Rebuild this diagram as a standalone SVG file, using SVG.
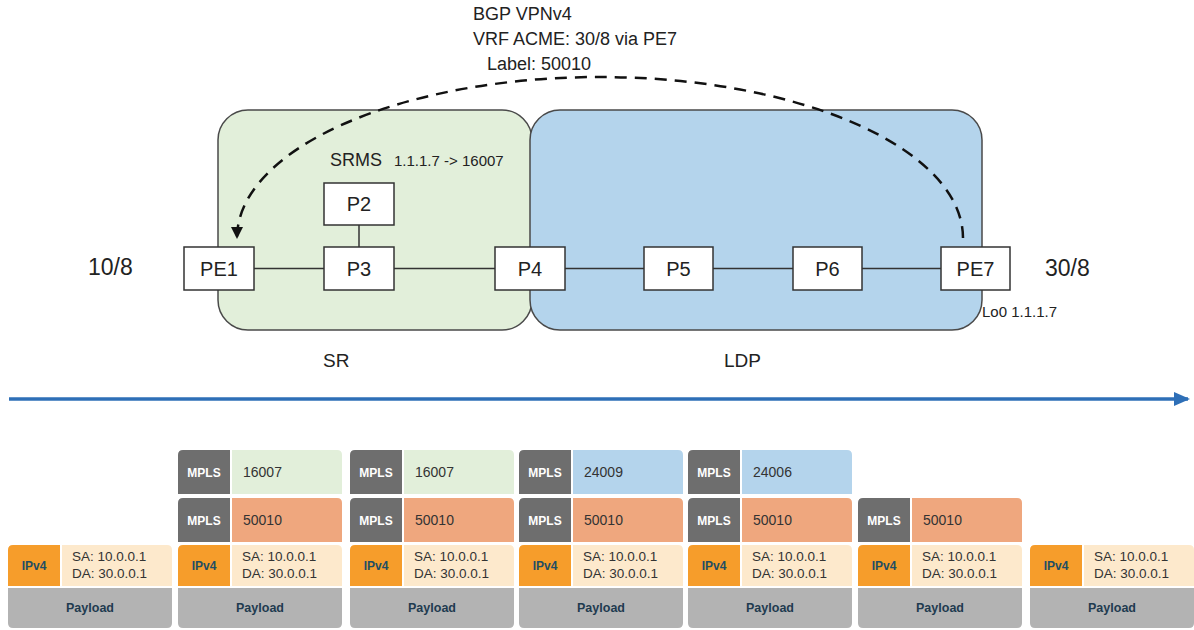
<svg xmlns="http://www.w3.org/2000/svg" width="1194" height="630" viewBox="0 0 1194 630">
<style>
text{font-family:"Liberation Sans",Arial,sans-serif;fill:#222}
.region{stroke:#4a4a4a;stroke-width:1.5}
.nrect{fill:#fff;stroke:#333;stroke-width:1.5}
.nl{font-size:20px;text-anchor:middle}
.link{stroke:#333;stroke-width:1.5;fill:none}
.dash{stroke:#111;stroke-width:2.5;fill:none;stroke-dasharray:12 8}
.dk{fill:#6e6e6e}
.grn{fill:#e2efda}
.blu{fill:#b4d4ec}
.sal{fill:#efa77e}
.org{fill:#f69d2b}
.crm{fill:#fde9cc}
.pay{fill:#b3b3b3}
.mp{font-size:12px;font-weight:bold;fill:#fff;text-anchor:middle}
.lb{font-size:14px;fill:#333}
.ip{font-size:12px;font-weight:bold;fill:#1f4e63;text-anchor:middle}
.ad{font-size:13.5px;fill:#333}
.pl{font-size:12.5px;font-weight:bold;fill:#1f3b50;text-anchor:middle}
</style>
<defs>
<marker id="ah" markerWidth="12" markerHeight="12" refX="11" refY="6" orient="auto" markerUnits="userSpaceOnUse">
<path d="M0,0 L12,6 L0,12 Z" fill="#111"/>
</marker>
<marker id="bh" markerWidth="16" markerHeight="14" refX="14" refY="7" orient="auto" markerUnits="userSpaceOnUse">
<path d="M0,0 L16,7 L0,14 Z" fill="#2e6fb7"/>
</marker>
</defs>

<!-- regions -->
<g id="region-sr"><rect class="region grn" x="218" y="110" width="314" height="220" rx="30"/></g>
<g id="region-ldp"><rect class="region blu" x="530" y="110" width="452" height="220" rx="30"/></g>

<!-- top labels -->
<text x="473" y="20" font-size="18">BGP VPNv4</text>
<text x="473" y="45" font-size="18">VRF ACME: 30/8 via PE7</text>
<text x="487" y="70" font-size="18">Label: 50010</text>
<text x="330" y="166" font-size="18">SRMS</text>
<text x="394" y="166" font-size="15">1.1.1.7 -&gt; 16007</text>
<text x="88" y="275" font-size="23">10/8</text>
<text x="1045" y="276" font-size="23">30/8</text>
<text x="982" y="317" font-size="15">Lo0 1.1.1.7</text>
<text x="323" y="367" font-size="19">SR</text>
<text x="724" y="367" font-size="19">LDP</text>

<!-- connectors -->
<g id="connectors">
<line class="link" x1="254" y1="268.5" x2="324" y2="268.5"/>
<line class="link" x1="394" y1="268.5" x2="495" y2="268.5"/>
<line class="link" x1="565" y1="268.5" x2="644" y2="268.5"/>
<line class="link" x1="713" y1="268.5" x2="793" y2="268.5"/>
<line class="link" x1="862" y1="268.5" x2="941" y2="268.5"/>
<line class="link" x1="359" y1="225" x2="359" y2="247"/>
<path class="dash" d="M963,238 A363,161 0 0 0 237,238" marker-end="url(#ah)"/>
<line x1="9" y1="399" x2="1188" y2="399" stroke="#2e6fb7" stroke-width="3.5" marker-end="url(#bh)"/>
</g>

<!-- nodes -->
<g id="PE1"><rect class="nrect" x="184" y="247" width="70" height="43"/><text class="nl" x="219" y="276">PE1</text></g>
<g id="P2"><rect class="nrect" x="324" y="183" width="70" height="42"/><text class="nl" x="359" y="211">P2</text></g>
<g id="P3"><rect class="nrect" x="324" y="247" width="70" height="43"/><text class="nl" x="359" y="276">P3</text></g>
<g id="P4"><rect class="nrect" x="495" y="247" width="70" height="43"/><text class="nl" x="530" y="276">P4</text></g>
<g id="P5"><rect class="nrect" x="644" y="247" width="69" height="43"/><text class="nl" x="678.5" y="276">P5</text></g>
<g id="P6"><rect class="nrect" x="793" y="247" width="69" height="43"/><text class="nl" x="827.5" y="276">P6</text></g>
<g id="PE7"><rect class="nrect" x="941" y="247" width="69" height="43"/><text class="nl" x="975.5" y="276">PE7</text></g>

<!-- packets -->
<g id="pkt1" transform="translate(8,0)">
<path class="org" d="M0,586 V550 Q0,545 5,545 H52 V586 Z"/>
<path class="crm" d="M54,545 H159 Q164,545 164,550 V586 H54 Z"/>
<text class="ip" x="26" y="570">IPv4</text>
<text class="ad" x="64" y="561">SA: 10.0.0.1</text>
<text class="ad" x="64" y="578">DA: 30.0.0.1</text>
<path class="pay" d="M0,588 H164 V623 Q164,628 159,628 H5 Q0,628 0,623 Z"/>
<text class="pl" x="82" y="612">Payload</text>
</g>

<g id="pkt2" transform="translate(178,0)">
<path class="dk" d="M0,494 V455 Q0,450 5,450 H52 V494 Z"/>
<path class="grn" d="M54,450 H159 Q164,450 164,455 V494 H54 Z"/>
<text class="mp" x="26" y="477">MPLS</text>
<text class="lb" x="65" y="477">16007</text>
<path class="dk" d="M0,542 V503 Q0,498 5,498 H52 V542 Z"/>
<path class="sal" d="M54,498 H159 Q164,498 164,503 V542 H54 Z"/>
<text class="mp" x="26" y="525">MPLS</text>
<text class="lb" x="65" y="525">50010</text>
<path class="org" d="M0,586 V550 Q0,545 5,545 H52 V586 Z"/>
<path class="crm" d="M54,545 H159 Q164,545 164,550 V586 H54 Z"/>
<text class="ip" x="26" y="570">IPv4</text>
<text class="ad" x="64" y="561">SA: 10.0.0.1</text>
<text class="ad" x="64" y="578">DA: 30.0.0.1</text>
<path class="pay" d="M0,588 H164 V623 Q164,628 159,628 H5 Q0,628 0,623 Z"/>
<text class="pl" x="82" y="612">Payload</text>
</g>

<g id="pkt3" transform="translate(350,0)">
<path class="dk" d="M0,494 V455 Q0,450 5,450 H52 V494 Z"/>
<path class="grn" d="M54,450 H159 Q164,450 164,455 V494 H54 Z"/>
<text class="mp" x="26" y="477">MPLS</text>
<text class="lb" x="65" y="477">16007</text>
<path class="dk" d="M0,542 V503 Q0,498 5,498 H52 V542 Z"/>
<path class="sal" d="M54,498 H159 Q164,498 164,503 V542 H54 Z"/>
<text class="mp" x="26" y="525">MPLS</text>
<text class="lb" x="65" y="525">50010</text>
<path class="org" d="M0,586 V550 Q0,545 5,545 H52 V586 Z"/>
<path class="crm" d="M54,545 H159 Q164,545 164,550 V586 H54 Z"/>
<text class="ip" x="26" y="570">IPv4</text>
<text class="ad" x="64" y="561">SA: 10.0.0.1</text>
<text class="ad" x="64" y="578">DA: 30.0.0.1</text>
<path class="pay" d="M0,588 H164 V623 Q164,628 159,628 H5 Q0,628 0,623 Z"/>
<text class="pl" x="82" y="612">Payload</text>
</g>

<g id="pkt4" transform="translate(519,0)">
<path class="dk" d="M0,494 V455 Q0,450 5,450 H52 V494 Z"/>
<path class="blu" d="M54,450 H159 Q164,450 164,455 V494 H54 Z"/>
<text class="mp" x="26" y="477">MPLS</text>
<text class="lb" x="65" y="477">24009</text>
<path class="dk" d="M0,542 V503 Q0,498 5,498 H52 V542 Z"/>
<path class="sal" d="M54,498 H159 Q164,498 164,503 V542 H54 Z"/>
<text class="mp" x="26" y="525">MPLS</text>
<text class="lb" x="65" y="525">50010</text>
<path class="org" d="M0,586 V550 Q0,545 5,545 H52 V586 Z"/>
<path class="crm" d="M54,545 H159 Q164,545 164,550 V586 H54 Z"/>
<text class="ip" x="26" y="570">IPv4</text>
<text class="ad" x="64" y="561">SA: 10.0.0.1</text>
<text class="ad" x="64" y="578">DA: 30.0.0.1</text>
<path class="pay" d="M0,588 H164 V623 Q164,628 159,628 H5 Q0,628 0,623 Z"/>
<text class="pl" x="82" y="612">Payload</text>
</g>

<g id="pkt5" transform="translate(688,0)">
<path class="dk" d="M0,494 V455 Q0,450 5,450 H52 V494 Z"/>
<path class="blu" d="M54,450 H159 Q164,450 164,455 V494 H54 Z"/>
<text class="mp" x="26" y="477">MPLS</text>
<text class="lb" x="65" y="477">24006</text>
<path class="dk" d="M0,542 V503 Q0,498 5,498 H52 V542 Z"/>
<path class="sal" d="M54,498 H159 Q164,498 164,503 V542 H54 Z"/>
<text class="mp" x="26" y="525">MPLS</text>
<text class="lb" x="65" y="525">50010</text>
<path class="org" d="M0,586 V550 Q0,545 5,545 H52 V586 Z"/>
<path class="crm" d="M54,545 H159 Q164,545 164,550 V586 H54 Z"/>
<text class="ip" x="26" y="570">IPv4</text>
<text class="ad" x="64" y="561">SA: 10.0.0.1</text>
<text class="ad" x="64" y="578">DA: 30.0.0.1</text>
<path class="pay" d="M0,588 H164 V623 Q164,628 159,628 H5 Q0,628 0,623 Z"/>
<text class="pl" x="82" y="612">Payload</text>
</g>

<g id="pkt6" transform="translate(858,0)">
<path class="dk" d="M0,542 V503 Q0,498 5,498 H52 V542 Z"/>
<path class="sal" d="M54,498 H159 Q164,498 164,503 V542 H54 Z"/>
<text class="mp" x="26" y="525">MPLS</text>
<text class="lb" x="65" y="525">50010</text>
<path class="org" d="M0,586 V550 Q0,545 5,545 H52 V586 Z"/>
<path class="crm" d="M54,545 H159 Q164,545 164,550 V586 H54 Z"/>
<text class="ip" x="26" y="570">IPv4</text>
<text class="ad" x="64" y="561">SA: 10.0.0.1</text>
<text class="ad" x="64" y="578">DA: 30.0.0.1</text>
<path class="pay" d="M0,588 H164 V623 Q164,628 159,628 H5 Q0,628 0,623 Z"/>
<text class="pl" x="82" y="612">Payload</text>
</g>

<g id="pkt7" transform="translate(1030,0)">
<path class="org" d="M0,586 V550 Q0,545 5,545 H52 V586 Z"/>
<path class="crm" d="M54,545 H159 Q164,545 164,550 V586 H54 Z"/>
<text class="ip" x="26" y="570">IPv4</text>
<text class="ad" x="64" y="561">SA: 10.0.0.1</text>
<text class="ad" x="64" y="578">DA: 30.0.0.1</text>
<path class="pay" d="M0,588 H164 V623 Q164,628 159,628 H5 Q0,628 0,623 Z"/>
<text class="pl" x="82" y="612">Payload</text>
</g>
</svg>
